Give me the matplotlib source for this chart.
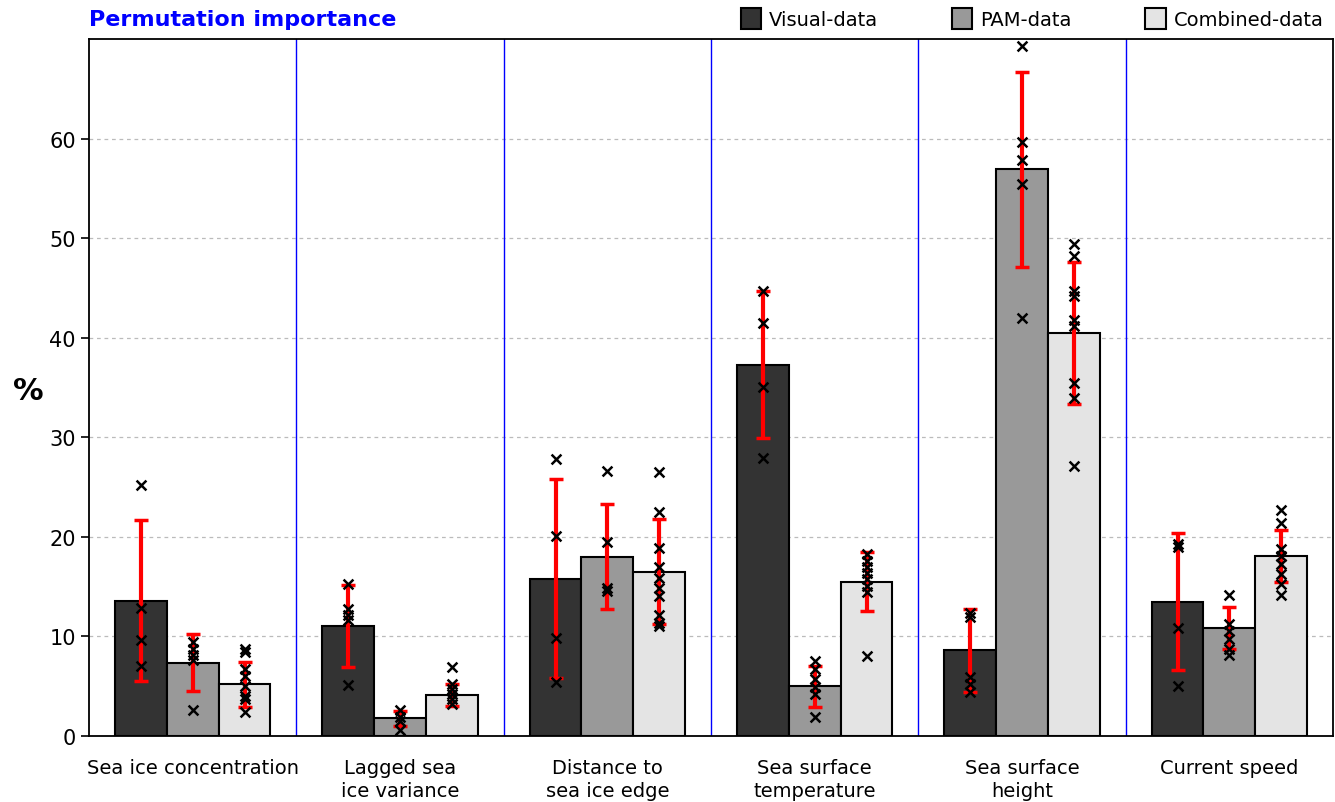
import numpy as np
import matplotlib
matplotlib.use("Agg")
import matplotlib.pyplot as plt
from matplotlib.patches import Patch

# predittori e serie
variabili = ["Sea ice concentration", "Lagged sea\nice variance", "Distance to\nsea ice edge",
             "Sea surface\ntemperature", "Sea surface\nheight", "Current speed"]
serie = ["Visual-data", "PAM-data", "Combined-data"]
colori = ["#333333", "#999999", "#e4e4e4"]

# medie (%) per serie
media_visual = [13.6, 11.05, 15.8, 37.3, 8.6, 13.5]
media_pam = [7.35, 1.8, 18.0, 5.0, 56.9, 10.85]
media_comb = [5.2, 4.1, 16.5, 15.5, 40.5, 18.1]

# deviazioni standard
std_visual = [8.1, 4.1, 10.0, 7.4, 4.2, 6.9]
std_pam = [2.85, 0.75, 5.25, 2.05, 9.75, 2.15]
std_comb = [2.25, 1.1, 5.25, 2.95, 7.15, 2.6]

# singole ripetizioni
punti_visual = [
    [25.2, 12.9, 9.6, 7.0],
    [15.3, 12.8, 12.2, 11.6, 5.1],
    [27.8, 20.1, 9.8, 5.4],
    [44.7, 41.5, 35.0, 27.9],
    [12.4, 12.0, 5.9, 5.2, 4.4],
    [19.3, 19.0, 10.8, 5.0],
]
punti_pam = [
    [9.4, 8.7, 8.1, 7.6, 2.6],
    [2.6, 1.9, 1.5, 0.6],
    [26.6, 19.5, 14.9, 14.6],
    [7.5, 6.7, 5.7, 4.9, 4.2, 1.9],
    [69.3, 59.7, 57.8, 55.4, 42.0],
    [14.2, 11.2, 10.5, 9.7, 8.7, 8.1],
]
punti_comb = [
    [8.7, 8.4, 6.7, 6.0, 5.0, 4.0, 3.7, 2.4],
    [6.9, 5.2, 4.7, 4.2, 3.7, 3.2],
    [26.5, 22.5, 18.9, 17.0, 15.9, 14.9, 14.1, 12.2, 11.3, 11.0],
    [18.3, 17.6, 17.0, 16.4, 15.8, 15.1, 14.5, 8.0],
    [49.4, 48.2, 44.7, 44.2, 41.8, 41.2, 35.5, 33.9, 27.1],
    [22.7, 21.4, 18.8, 18.1, 17.3, 16.3, 15.3, 14.2],
]

medie = [media_visual, media_pam, media_comb]
stds = [std_visual, std_pam, std_comb]
punti = [punti_visual, punti_pam, punti_comb]

fig = plt.figure(figsize=(13.35, 8.03), dpi=100)
ax = fig.add_axes([0.0667, 0.0822, 0.9318, 0.868])

x = np.arange(len(variabili))
larghezza = 0.25

for j in range(3):
    pos = x + (j - 1) * larghezza
    ax.bar(pos, medie[j], width=larghezza, color=colori[j], edgecolor="black",
           linewidth=1.5, zorder=2)
    for i in range(len(variabili)):
        ax.scatter([pos[i]] * len(punti[j][i]), punti[j][i], marker="x", color="black",
                   s=50, linewidths=1.8, zorder=4)
    ax.errorbar(pos, medie[j], yerr=stds[j], fmt="none", ecolor="red", elinewidth=3,
                capsize=5, capthick=2.5, zorder=3)

# separatori tra i gruppi
for k in range(len(variabili) - 1):
    ax.axvline(k + 0.5, color="blue", linewidth=1, zorder=1)

ax.set_xlim(-0.5, len(variabili) - 0.5)
ax.set_ylim(0, 70)
ax.set_yticks(range(0, 70, 10))
ax.yaxis.grid(True, linestyle=(0, (3, 3)), color="#bbbbbb", linewidth=0.9, zorder=0)
ax.set_axisbelow(True)
ax.set_xticks(x)
ax.set_xticklabels(variabili, fontsize=14, linespacing=1.25)
ax.tick_params(axis="x", length=0, pad=16)
ax.tick_params(axis="y", labelsize=15, length=6, width=1.2)
for s in ax.spines.values():
    s.set_linewidth(1.3)

ax.set_ylabel("%", fontsize=22, fontweight="bold", rotation=0)
ax.yaxis.set_label_coords(-0.049, 0.475)

fig.text(0.0667, 0.988, "Permutation importance", color="blue", fontsize=16,
         fontweight="bold", ha="left", va="top")

handles = [Patch(facecolor=c, edgecolor="black", linewidth=1.5) for c in colori]
fig.legend(handles, serie, loc="upper right", bbox_to_anchor=(1.0045, 1.01), ncol=3,
           frameon=False, fontsize=14, handlelength=1.05, handleheight=1.25,
           handletextpad=0.4, columnspacing=3.8)

fig.savefig("out.png", dpi=100)
